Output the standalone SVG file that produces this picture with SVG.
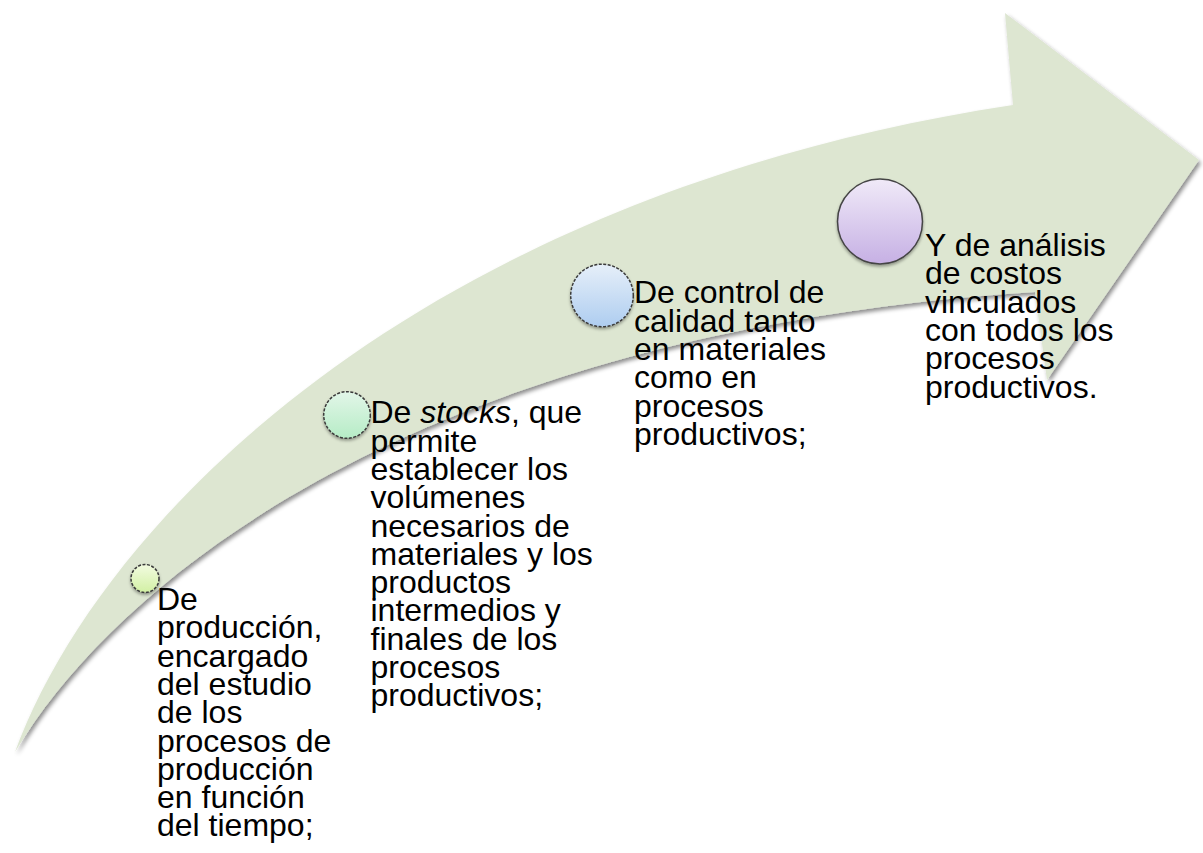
<svg xmlns="http://www.w3.org/2000/svg" width="1203" height="853" viewBox="0 0 1203 853">
<style>
.t{font-family:"Liberation Sans",Arial,sans-serif;font-size:32px;fill:#000}
.c{stroke:#3a3a3a;stroke-width:1.5;stroke-dasharray:3 1.5}
</style>
<defs>
<filter id="sh" x="-10%" y="-10%" width="120%" height="120%">
<feDropShadow dx="2" dy="3" stdDeviation="2" flood-color="#000" flood-opacity="0.45"/>
</filter>
<filter id="csh" x="-30%" y="-30%" width="160%" height="160%">
<feDropShadow dx="0" dy="2" stdDeviation="1.5" flood-color="#000" flood-opacity="0.35"/>
</filter>
<linearGradient id="g1" x1="0" y1="0" x2="0" y2="1"><stop offset="0" stop-color="#f2fbe0"/><stop offset="1" stop-color="#d2f0a4"/></linearGradient>
<linearGradient id="g2" x1="0" y1="0" x2="0" y2="1"><stop offset="0" stop-color="#e2f6e8"/><stop offset="1" stop-color="#b6ecc6"/></linearGradient>
<linearGradient id="g3" x1="0" y1="0" x2="0" y2="1"><stop offset="0" stop-color="#e6eff9"/><stop offset="1" stop-color="#aecdf0"/></linearGradient>
<linearGradient id="g4" x1="0" y1="0" x2="0" y2="1"><stop offset="0" stop-color="#f0eaf8"/><stop offset="1" stop-color="#c6b0e4"/></linearGradient>
</defs>
<rect width="1203" height="853" fill="#fff"/>
<g id="arrow">
<path d="M15,752 C100,520 420,195 1013,105 L1005,13 L1199,160 L1047,380 L1035,292 C450,330 130,560 15,752 Z" fill="#dde6d1" filter="url(#sh)"/>
</g>
<g id="connectors"></g>
<g id="node1">
<circle cx="145" cy="578.5" r="14" fill="url(#g1)" class="c" filter="url(#csh)"/>
<text class="t" x="157" y="610">
<tspan x="157" y="610">De</tspan>
<tspan x="157" y="638.3">producción,</tspan>
<tspan x="157" y="666.6">encargado</tspan>
<tspan x="157" y="694.9">del estudio</tspan>
<tspan x="157" y="723.2">de los</tspan>
<tspan x="157" y="751.5">procesos de</tspan>
<tspan x="157" y="779.8">producción</tspan>
<tspan x="157" y="808.1">en función</tspan>
<tspan x="157" y="836.4">del tiempo;</tspan>
</text>
</g>
<g id="node2">
<circle cx="347" cy="415" r="23.3" fill="url(#g2)" class="c" filter="url(#csh)"/>
<text class="t" x="370.5" y="423.3">
<tspan x="370.5" y="423.3">De <tspan font-style="italic">stocks</tspan>, que</tspan>
<tspan x="370.5" y="451.6">permite</tspan>
<tspan x="370.5" y="479.9">establecer los</tspan>
<tspan x="370.5" y="508.2">volúmenes</tspan>
<tspan x="370.5" y="536.5">necesarios de</tspan>
<tspan x="370.5" y="564.8">materiales y los</tspan>
<tspan x="370.5" y="593.1">productos</tspan>
<tspan x="370.5" y="621.4">intermedios y</tspan>
<tspan x="370.5" y="649.7">finales de los</tspan>
<tspan x="370.5" y="678">procesos</tspan>
<tspan x="370.5" y="706.3">productivos;</tspan>
</text>
</g>
<g id="node3">
<circle cx="602" cy="295.5" r="31.3" fill="url(#g3)" class="c" filter="url(#csh)"/>
<text class="t" x="634" y="303.3">
<tspan x="634" y="303.3">De control de</tspan>
<tspan x="634" y="331.6">calidad tanto</tspan>
<tspan x="634" y="359.9">en materiales</tspan>
<tspan x="634" y="388.2">como en</tspan>
<tspan x="634" y="416.5">procesos</tspan>
<tspan x="634" y="444.8">productivos;</tspan>
</text>
</g>
<g id="node4">
<circle cx="880" cy="221.5" r="42.5" fill="url(#g4)" stroke="#444" stroke-width="1.5" filter="url(#csh)"/>
<text class="t" x="925" y="256">
<tspan x="925" y="256">Y de análisis</tspan>
<tspan x="925" y="284.3">de costos</tspan>
<tspan x="925" y="312.6">vinculados</tspan>
<tspan x="925" y="340.9">con todos los</tspan>
<tspan x="925" y="369.2">procesos</tspan>
<tspan x="925" y="397.5">productivos.</tspan>
</text>
</g>
</svg>
